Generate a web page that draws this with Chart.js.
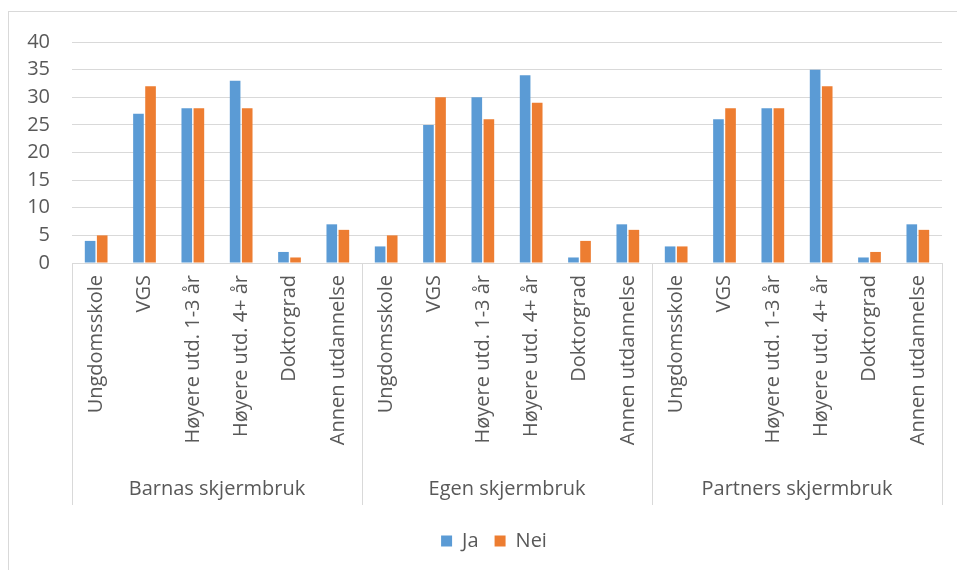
<!DOCTYPE html>
<html>
<head>
<meta charset="utf-8">
<script src="https://cdn.jsdelivr.net/npm/chart.js@4"></script>
<style>
  html, body { margin: 0; padding: 0; background: #fff; }
  #wrap { position: relative; width: 957px; height: 570px; overflow: hidden; }
  #ramme { position: absolute; left: 8px; top: 11px; width: 1000px; height: 1000px;
           border: 1px solid #d9d9d9; }
  canvas { position: absolute; left: 0; top: 0; }
</style>
</head>
<body>
<div id="wrap">
  <div id="ramme"></div>
  <canvas id="graf" width="957" height="570"></canvas>
</div>
<script>
// ---- data ----
const grupper   = ['Barnas skjermbruk', 'Egen skjermbruk', 'Partners skjermbruk'];
const utdanning = ['Ungdomsskole', 'VGS', 'Høyere utd. 1-3 år', 'Høyere utd. 4+ år', 'Doktorgrad', 'Annen utdannelse'];
const ja  = [4, 27, 28, 33, 2, 7,   3, 25, 30, 34, 1, 7,   3, 26, 28, 35, 1, 7];
const nei = [5, 32, 28, 28, 1, 6,   5, 30, 26, 29, 4, 6,   3, 28, 28, 32, 2, 6];
const yMaks = 40, ySteg = 5;

const GRAA  = '#595959';
const LINJE = '#d9d9d9';
const FONT  = "'Open Sans', 'Noto Sans', sans-serif";
const STR   = 20;

// en etikett per stolpepar: utdanning gjentatt for hver gruppe
const etiketter = grupper.flatMap(() => utdanning);

// gruppenavn + skillelinjer under x-aksen
const gruppeAkse = {
  id: 'gruppeAkse',
  afterLayout(chart) {
    // legenden litt mot høyre, midt under plottområdet
    chart.legend.left += 23;
    chart.legend.right += 23;
  },
  afterDraw(chart) {
    const x = chart.scales.x;
    const ctx = chart.ctx;
    const n = utdanning.length;
    const bredde = x.getPixelForValue(1) - x.getPixelForValue(0);
    const topp = chart.chartArea.bottom;
    const bunn = x.bottom - 10;
    ctx.save();
    ctx.strokeStyle = LINJE;
    ctx.lineWidth = 1;
    for (let g = 0; g <= grupper.length; g++) {
      const px = Math.round(x.getPixelForValue(g * n) - bredde / 2) + 0.5;
      ctx.beginPath();
      ctx.moveTo(px, topp);
      ctx.lineTo(px, bunn);
      ctx.stroke();
    }
    ctx.fillStyle = GRAA;
    ctx.font = `${STR}px ${FONT}`;
    ctx.textAlign = 'center';
    ctx.textBaseline = 'middle';
    grupper.forEach((navn, g) => {
      const a = x.getPixelForValue(g * n) - bredde / 2;
      const b = x.getPixelForValue(g * n + n - 1) + bredde / 2;
      ctx.fillText(navn, (a + b) / 2, bunn - 16);
    });
    ctx.restore();
  }
};

new Chart(document.getElementById('graf').getContext('2d'), {
  type: 'bar',
  data: {
    labels: etiketter,
    datasets: [
      { label: 'Ja',  data: ja,  backgroundColor: '#5B9BD5' },
      { label: 'Nei', data: nei, backgroundColor: '#ED7D31' },
    ]
  },
  options: {
    responsive: false,
    animation: false,
    layout: { padding: { left: 0, right: 15, top: 42, bottom: 9 } },
    datasets: { bar: { categoryPercentage: 0.5, barPercentage: 0.88 } },
    plugins: {
      legend: {
        position: 'bottom',
        labels: {
          color: GRAA, boxWidth: 11, boxHeight: 11, padding: 16,
          font: { family: FONT, size: STR }
        }
      },
      tooltip: { enabled: false }
    },
    scales: {
      x: {
        grid: { display: false, drawTicks: false },
        border: { display: true, color: LINJE, width: 1 },
        ticks: {
          autoSkip: false, minRotation: 90, maxRotation: 90, padding: 12,
          color: GRAA, font: { family: FONT, size: STR }
        },
        afterFit: s => { s.height = 252; }
      },
      y: {
        min: 0, max: yMaks,
        grid: { color: LINJE, lineWidth: 1, drawTicks: false },
        border: { display: false },
        ticks: {
          stepSize: ySteg, padding: 22,
          color: GRAA, font: { family: FONT, size: STR }
        },
        afterFit: s => { s.width = 72; }
      }
    }
  },
  plugins: [gruppeAkse]
});
</script>
</body>
</html>
